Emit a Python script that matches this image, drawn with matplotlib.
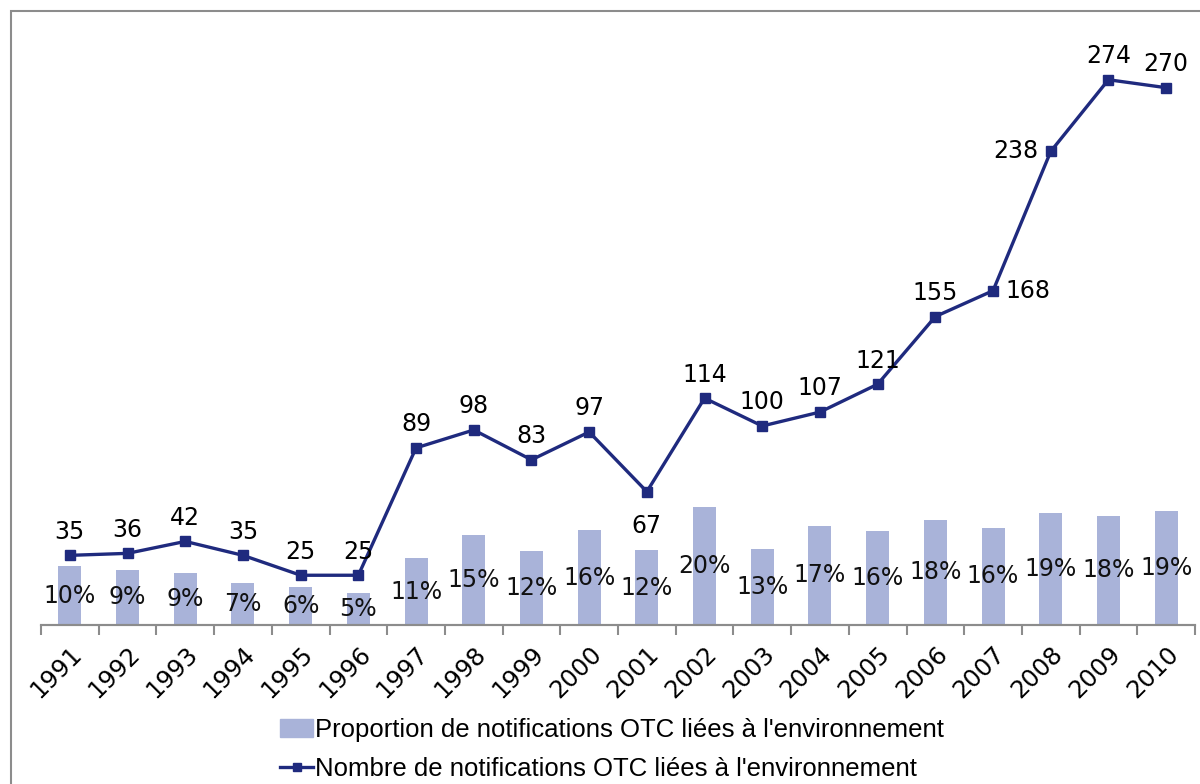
import matplotlib.pyplot as plt
from matplotlib.patches import Rectangle
from matplotlib.lines import Line2D
from matplotlib.patches import Patch

years = [str(y) for y in range(1991, 2011)]
nombre = [35, 36, 42, 35, 25, 25, 89, 98, 83, 97, 67, 114, 100, 107, 121, 155, 168, 238, 274, 270]
proportion = [0.10, 0.094, 0.088, 0.071, 0.065, 0.054, 0.114, 0.154, 0.126, 0.162, 0.128,
              0.201, 0.130, 0.170, 0.160, 0.180, 0.166, 0.191, 0.187, 0.194]
pct_labels = ["10%", "9%", "9%", "7%", "6%", "5%", "11%", "15%", "12%", "16%", "12%",
              "20%", "13%", "17%", "16%", "18%", "16%", "19%", "18%", "19%"]

navy = "#1f2a7e"
lilac = "#a9b3d9"

fig = plt.figure(figsize=(12, 7.84), dpi=100)
fig.patches.append(Rectangle((11/1200, -0.1), 1.2, (784-11)/784 + 0.1, transform=fig.transFigure,
                             fill=False, edgecolor="#8c8c8c", linewidth=1.5))

ax2 = fig.add_axes([41/1200, (784-625)/784, (1195-41)/1200, (625-28)/784])
ax = ax2.twinx()

x = list(range(len(years)))
ax2.bar(x, proportion, width=0.4, color=lilac, zorder=1)
ax2.set_ylim(0, 1.02)
for i, (p, t) in enumerate(zip(proportion, pct_labels)):
    ax2.text(i, p / 2, t, ha="center", va="center", fontsize=17, color="#111111")

ax.plot(x, nombre, color=navy, linewidth=2.4, marker="s", markersize=6.5)
ax.set_ylim(0, 300)
# position des etiquettes (decalage en points)
for i, v in enumerate(nombre):
    if v == 67:
        off = (0, -25)
    elif v == 168:
        off = (25, 0)
    elif v == 238:
        off = (-25, 0)
    else:
        off = (0, 17)
    ax.annotate(str(v), (i, v), xytext=off, textcoords="offset points", ha="center", va="center", fontsize=17)

ax2.set_xlim(-0.5, len(years) - 0.5)
ax2.set_xticks(x)
ax2.set_xticklabels(years, rotation=45, ha="right", rotation_mode="anchor", fontsize=17.5)
ax2.set_xticks([i - 0.5 for i in range(len(years) + 1)], minor=True)
ax2.tick_params(axis="x", which="major", length=0, pad=12)
ax2.tick_params(axis="x", which="minor", length=7, color="#8c8c8c", width=1.5)
ax2.set_yticks([])
ax.set_yticks([])
for a in (ax, ax2):
    for s in ("top", "left", "right"):
        a.spines[s].set_visible(False)
    a.spines["bottom"].set_color("#8c8c8c")
    a.spines["bottom"].set_linewidth(1.5)

handles = [Patch(color=lilac), Line2D([0], [0], color=navy, linewidth=2.4, marker="s", markersize=6)]
labels = ["Proportion de notifications OTC liées à l'environnement",
          "Nombre de notifications OTC liées à l'environnement"]
fig.legend(handles, labels, loc="upper left", bbox_to_anchor=(280/1200, 1 - 718/784), frameon=False,
           handlelength=1.3, handletextpad=0.08, labelspacing=0.57, borderpad=0, borderaxespad=0,
           prop={"family": "Liberation Sans", "size": 18.5})

fig.savefig("out.png", dpi=100)
